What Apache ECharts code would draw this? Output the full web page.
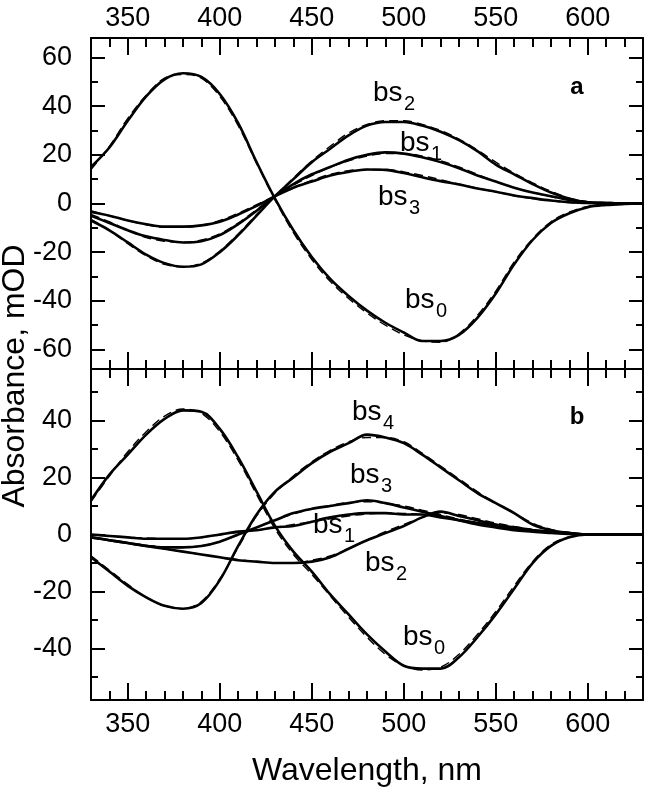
<!DOCTYPE html>
<html>
<head>
<meta charset="utf-8">
<script src="https://cdn.jsdelivr.net/npm/echarts@6/dist/echarts.min.js"></script>
<style>html,body{margin:0;padding:0;background:#fff}#c{width:647px;height:795px}</style>
</head>
<body>
<div id="c"></div>
<script>
// ---------- data ----------
const wavelength = [330,340,350,360,370,380,390,400,410,420,430,440,450,460,470,480,490,500,510,520,530,540,550,560,570,580,590,600,610,620,630];

// panel a (measured)
const aBs0 = [15,23,34,44,51,53.5,52,45,33,17,2,-11,-22,-31,-38,-44,-49,-53,-56.5,-56.5,-54,-47,-37,-25,-15,-8,-4,-1.5,-0.6,-0.2,0];
const aBs1 = [-5,-8,-11,-13.5,-15,-16,-15.5,-13,-8.5,-3,3,8,12,15,18,20,21,20.5,19,17,14.5,11.5,9,6.5,4.5,3,1.5,0.5,0.2,0,0];
const aBs2 = [-7,-11,-16,-21,-24.5,-26,-25,-20,-13,-5,3,10,17,22.5,28,32,33.5,33.5,32,29.5,26,21.5,16,12,8,4.5,2,0.5,0.2,0,0];
const aBs3 = [-3.5,-5,-7,-8.5,-9.5,-9.5,-9,-7.5,-4.5,-1,3,6.5,9,11.5,13,14,13.8,12.5,10.8,9.2,7.8,6.2,4.8,3.3,2.2,1.2,0.5,0.2,0,0,0];
// panel a (fits)
const aFit0 = [14,23.5,35,44.5,51.5,53,51.5,44,32,16.5,1.5,-12,-23,-32,-39,-45,-50,-54,-56.5,-57,-53.5,-46,-36,-24,-14.5,-7.5,-3.5,-1.2,-0.4,-0.1,0];
const aFit1 = [-4.5,-7.5,-11,-14,-15.5,-16,-15,-12.5,-8,-2.5,3,7.5,11.5,15,17.5,19.5,20.5,20.5,19.5,17.5,15,12,9,6.5,4.5,2.8,1.4,0.5,0.1,0,0];
const aFit2 = [-6.5,-11,-16.5,-21.5,-25,-26,-24.5,-19.5,-12.5,-4.5,3,10.5,17.5,23.5,29,32.5,34,34,32.5,30,26.5,22,17,12.5,8.5,5,2.2,0.7,0.2,0,0];
const aFit3 = [-3,-5,-7,-8.8,-9.8,-9.8,-9,-7,-4,-0.5,3,6.5,9.5,12,13.5,14,14,13,11.5,9.8,8,6.3,4.7,3.2,2,1.1,0.4,0.1,0,0,0];

// panel b (measured)
const bBs0 = [12,21,28,35,40.5,43.5,43,37,27,15,3,-6,-13,-21,-28,-35,-41,-46,-47,-47,-43,-36,-28,-19,-10,-4,-1,0,0,0,0];
const bBs1 = [0,-0.5,-1,-1.5,-1.5,-1.5,-1,0,1,1.5,2.5,3,4.5,6,7,7.5,7.5,7,7,6,5,4,3,2,1.5,1,0.5,0,0,0,0];
const bBs2 = [-1,-2,-3,-4,-5,-6,-7,-8,-9,-9.5,-10,-10,-9.5,-8,-5,-2,0.5,3,6,8,6.5,5,3.5,2.5,1.5,1,0.5,0,0,0,0];
const bBs3 = [-1,-2,-3,-4,-4.5,-4.5,-4,-2.5,0,2.5,5,7.5,9,10,11,12,11,9.5,8,6.5,5,3.5,2.5,1.5,1,0.5,0.2,0,0,0,0];
const bBs4 = [-8,-13,-18,-22,-25,-26,-24,-16,-4,7,15,20,25,29,32,35,34,32,28,23.5,19,14.5,11,7.5,3.5,1.5,0.5,0,0,0,0];
// panel b (fits)
const bFit0 = [11.5,20.5,29,36,41.5,44,42.5,36,26,14,2,-7,-14,-21.5,-29,-36,-42,-46,-47.5,-46.5,-42,-35,-27,-18,-9.5,-3.5,-0.8,0,0,0,0];
const bFit1 = [0,-0.5,-1,-1.2,-1.5,-1.5,-1,-0.2,0.8,1.5,2.5,3.5,4.5,5.5,6.5,7.2,7.5,7.4,7,6.2,5.2,4.2,3.2,2.2,1.5,0.9,0.4,0,0,0,0];
const bFit2 = [-1,-2,-3,-4,-5,-6,-7,-8,-8.8,-9.5,-10,-10,-9,-7.5,-5,-2,1,3.5,6,7.5,7,5.5,4,2.8,1.8,1,0.4,0,0,0,0];
const bFit3 = [-1,-2,-3,-3.8,-4.4,-4.6,-4,-2.5,-0.2,2.3,5,7.2,9,10.2,11.2,11.5,11,10,8.5,7,5.4,4,2.8,1.8,1.1,0.6,0.2,0,0,0,0];
const bFit4 = [-7.5,-12.5,-17.5,-22,-25,-26,-23.5,-15.5,-4.5,6.5,14.5,20.5,25.5,29.5,32.5,34,34,32.5,28.5,24,19.5,15,11,7.5,4,1.8,0.6,0,0,0,0];

// ticks
const xMajor = [350,400,450,500,550,600];
const xMinor = [340,350,360,370,380,390,400,410,420,430,440,450,460,470,480,490,500,510,520,530,540,550,560,570,580,590,600,610,620];
const aYMajor = [-60,-40,-20,0,20,40,60];
const aYMinor = [-60,-50,-40,-30,-20,-10,0,10,20,30,40,50,60];
const bYMajor = [-40,-20,0,20,40];
const bYMinor = [-50,-40,-30,-20,-10,0,10,20,30,40,50];

// ---------- chart ----------
const FONT = 'Liberation Sans, Arial, Helvetica, sans-serif';
const BLACK = '#000';

function xAxes(grid, labelPos) {
  const other = labelPos === 'top' ? 'bottom' : 'top';
  const base = {gridIndex: grid, type: 'value', min: 330, max: 630, splitLine: {show: false}};
  const lineOn = {show: true, onZero: false, lineStyle: {color: BLACK, width: 2}};
  const lineOff = {show: false, onZero: false};
  const lbl = {show: true, customValues: xMajor, fontSize: 27, color: BLACK, fontFamily: FONT,
               margin: labelPos === 'top' ? 6 : 11};
  return [
    Object.assign({}, base, {position: labelPos, axisLine: lineOn,
      axisTick: {show: true, inside: true, length: 17, customValues: xMajor, lineStyle: {color: BLACK, width: 2}},
      axisLabel: lbl}),
    Object.assign({}, base, {position: labelPos, axisLine: lineOff,
      axisTick: {show: true, inside: true, length: 9, customValues: xMinor, lineStyle: {color: BLACK, width: 2}},
      axisLabel: {show: false}}),
    Object.assign({}, base, {position: other, axisLine: lineOn,
      axisTick: {show: true, inside: true, length: 17, customValues: xMajor, lineStyle: {color: BLACK, width: 2}},
      axisLabel: {show: false}}),
    Object.assign({}, base, {position: other, axisLine: lineOff,
      axisTick: {show: true, inside: true, length: 9, customValues: xMinor, lineStyle: {color: BLACK, width: 2}},
      axisLabel: {show: false}})
  ];
}

function yAxes(grid, lim, major, minor) {
  const base = {gridIndex: grid, type: 'value', min: -lim, max: lim, splitLine: {show: false}};
  const lineOn = {show: true, onZero: false, lineStyle: {color: BLACK, width: 2}};
  const lineOff = {show: false, onZero: false};
  return [
    Object.assign({}, base, {position: 'left', axisLine: lineOn,
      axisTick: {show: true, inside: true, length: 14, customValues: major, lineStyle: {color: BLACK, width: 2}},
      axisLabel: {show: true, customValues: major, fontSize: 27, color: BLACK, fontFamily: FONT, margin: 19}}),
    Object.assign({}, base, {position: 'left', axisLine: lineOff,
      axisTick: {show: true, inside: true, length: 7, customValues: minor, lineStyle: {color: BLACK, width: 2}},
      axisLabel: {show: false}}),
    Object.assign({}, base, {position: 'right', axisLine: lineOn,
      axisTick: {show: true, inside: true, length: 14, customValues: major, lineStyle: {color: BLACK, width: 2}},
      axisLabel: {show: false}}),
    Object.assign({}, base, {position: 'right', axisLine: lineOff,
      axisTick: {show: true, inside: true, length: 7, customValues: minor, lineStyle: {color: BLACK, width: 2}},
      axisLabel: {show: false}})
  ];
}

function pairs(ys) { return wavelength.map((w, i) => [w, ys[i]]); }

function solid(ys, g) {
  return {type: 'line', xAxisIndex: g * 4, yAxisIndex: g * 4, data: pairs(ys), showSymbol: false,
    smooth: 0.35, lineStyle: {color: BLACK, width: 2.6}, silent: true, z: 3};
}
function dashed(ys, g) {
  return {type: 'line', xAxisIndex: g * 4, yAxisIndex: g * 4, data: pairs(ys), showSymbol: false,
    smooth: 0.35, lineStyle: {color: BLACK, width: 1.4, type: [9, 5]}, silent: true, z: 4};
}

function label(x, y, sub) {
  return [
    {type: 'text', x: x, y: y, style: {text: 'bs', fontSize: 28, fontFamily: FONT, fill: BLACK,
      textAlign: 'left', textVerticalAlign: 'middle', align: 'left', verticalAlign: 'middle'}},
    {type: 'text', x: x + 31, y: y + 11, style: {text: sub, fontSize: 20, fontFamily: FONT, fill: BLACK,
      textAlign: 'left', textVerticalAlign: 'middle', align: 'left', verticalAlign: 'middle'}}
  ];
}

const graphics = [].concat(
  label(373, 93, '2'), label(400, 143, '1'), label(378, 197, '3'), label(405, 300, '0'),
  label(352, 412, '4'), label(350, 475, '3'), label(313, 525, '1'), label(365, 563, '2'), label(403, 637, '0'),
  [
    {type: 'text', x: 577, y: 87, style: {text: 'a', fontSize: 24, fontWeight: 'bold', fontFamily: FONT, fill: BLACK,
      textAlign: 'center', textVerticalAlign: 'middle', align: 'center', verticalAlign: 'middle'}},
    {type: 'text', x: 577, y: 417, style: {text: 'b', fontSize: 24, fontWeight: 'bold', fontFamily: FONT, fill: BLACK,
      textAlign: 'center', textVerticalAlign: 'middle', align: 'center', verticalAlign: 'middle'}},
    {type: 'text', x: 367, y: 771, style: {text: 'Wavelength, nm', fontSize: 32, fontFamily: FONT, fill: BLACK,
      textAlign: 'center', textVerticalAlign: 'middle', align: 'center', verticalAlign: 'middle'}},
    {type: 'text', x: 15, y: 376, rotation: Math.PI / 2, style: {text: 'Absorbance, mOD', fontSize: 32, fontFamily: FONT, fill: BLACK,
      textAlign: 'center', textVerticalAlign: 'middle', align: 'center', verticalAlign: 'middle'}}
  ]
);

const chart = echarts.init(document.getElementById('c'), null, {renderer: 'canvas'});
chart.setOption({
  animation: false,
  backgroundColor: '#fff',
  grid: [
    {left: 91, right: 4, top: 38, height: 331, containLabel: false},
    {left: 91, right: 4, top: 369, height: 331, containLabel: false}
  ],
  xAxis: xAxes(0, 'top').concat(xAxes(1, 'bottom')),
  yAxis: yAxes(0, 68, aYMajor, aYMinor).concat(yAxes(1, 58, bYMajor, bYMinor)),
  series: [
    solid(aBs0, 0), solid(aBs1, 0), solid(aBs2, 0), solid(aBs3, 0),
    dashed(aFit0, 0), dashed(aFit1, 0), dashed(aFit2, 0), dashed(aFit3, 0),
    solid(bBs0, 1), solid(bBs1, 1), solid(bBs2, 1), solid(bBs3, 1), solid(bBs4, 1),
    dashed(bFit0, 1), dashed(bFit1, 1), dashed(bFit2, 1), dashed(bFit3, 1), dashed(bFit4, 1)
  ],
  graphic: graphics
});
</script>
</body>
</html>
